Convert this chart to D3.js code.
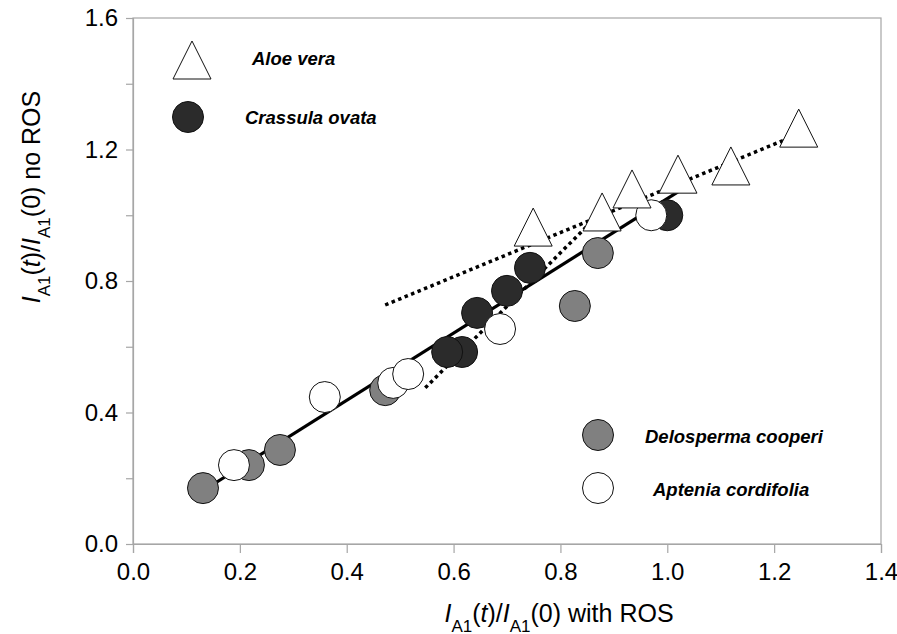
<!DOCTYPE html>
<html>
<head>
<meta charset="utf-8">
<script src="https://cdn.jsdelivr.net/npm/d3@7"></script>
<style>
  body { margin: 0; background: #fff; }
  text { font-family: "Liberation Sans", Arial, sans-serif; }
</style>
</head>
<body>
<script>
// values
var aloeX = [0.749, 0.878, 0.934, 1.020, 1.119, 1.246];
var aloeY = [0.964, 1.010, 1.080, 1.125, 1.150, 1.265];

var crassulaX = [0.616, 0.588, 0.644, 0.700, 0.743, 1.000];
var crassulaY = [0.584, 0.584, 0.703, 0.770, 0.840, 1.000];

var delospermaX = [0.131, 0.217, 0.275, 0.472, 0.827, 0.870];
var delospermaY = [0.170, 0.240, 0.286, 0.468, 0.724, 0.885];

var apteniaX = [0.189, 0.359, 0.487, 0.515, 0.687, 0.970];
var apteniaY = [0.240, 0.447, 0.490, 0.517, 0.654, 1.000];

// fitted lines (end points)
var aloeFitX = [0.472, 1.246];
var aloeFitY = [0.727, 1.247];
var crassulaFitX = [0.547, 0.850];
var crassulaFitY = [0.475, 0.967];
var allFitX = [0.131, 1.020];
var allFitY = [0.162, 1.071];

var xTicks = [0, 0.2, 0.4, 0.6, 0.8, 1.0, 1.2, 1.4];
var yTicks = [0, 0.2, 0.4, 0.6, 0.8, 1.0, 1.2, 1.4, 1.6];
var yTickLabels = ["0.0", "", "0.4", "", "0.8", "", "1.2", "", "1.6"];

var width = 897, height = 634;
var margin = {top: 18, right: 16, bottom: 90, left: 133};
var w = width - margin.left - margin.right;
var h = height - margin.top - margin.bottom;

var svg = d3.select("body").append("svg")
    .attr("width", width)
    .attr("height", height);

var g = svg.append("g")
    .attr("transform", "translate(" + margin.left + "," + margin.top + ")");

var xScale = d3.scaleLinear().domain([0, 1.4]).range([0, w]);
var yScale = d3.scaleLinear().domain([0, 1.6]).range([h, 0]);

var axisColor = "#a6a6a6";

// frame
g.append("rect")
    .attr("x", 0).attr("y", 0)
    .attr("width", w).attr("height", h)
    .attr("fill", "none")
    .attr("stroke", axisColor)
    .attr("stroke-width", 1.2);

var xAxis = g.append("g")
    .attr("transform", "translate(0," + h + ")")
    .call(d3.axisBottom(xScale).tickValues(xTicks).tickSize(9).tickPadding(10)
        .tickFormat(d3.format(".1f")));

var yAxis = g.append("g")
    .call(d3.axisLeft(yScale).tickValues(yTicks).tickSize(7).tickPadding(8)
        .tickFormat(function(d, i) { return yTickLabels[i]; }));

[xAxis, yAxis].forEach(function(a) {
    a.select(".domain").attr("stroke", axisColor).attr("stroke-width", 1.2);
    a.selectAll(".tick line").attr("stroke", axisColor).attr("stroke-width", 1.2);
    a.selectAll(".tick text")
        .attr("fill", "#000")
        .style("font-size", "24px")
        .style("font-family", "'Liberation Sans', Arial, sans-serif");
});

// fit lines
function fitLine(xs, ys) {
    return xs.map(function(x, i) { return [xScale(x), yScale(ys[i])]; });
}
var line = d3.line();

g.append("path")
    .attr("d", line(fitLine(allFitX, allFitY)))
    .attr("stroke", "#000").attr("stroke-width", 3.2).attr("fill", "none");

g.append("path")
    .attr("d", line(fitLine(aloeFitX, aloeFitY)))
    .attr("stroke", "#000").attr("stroke-width", 3.5)
    .attr("stroke-dasharray", "3.5,3.5").attr("fill", "none");

g.append("path")
    .attr("d", line(fitLine(crassulaFitX, crassulaFitY)))
    .attr("stroke", "#000").attr("stroke-width", 3.5)
    .attr("stroke-dasharray", "3.5,3.5").attr("fill", "none");

var r = 15.5;
function circles(xs, ys, fill) {
    g.append("g").selectAll("circle")
        .data(xs.map(function(x, i) { return [x, ys[i]]; }))
        .enter().append("circle")
            .attr("cx", function(d) { return xScale(d[0]); })
            .attr("cy", function(d) { return yScale(d[1]); })
            .attr("r", r)
            .attr("fill", fill)
            .attr("stroke", "#111")
            .attr("stroke-width", 1);
}
circles(delospermaX, delospermaY, "#808080");
circles(crassulaX, crassulaY, "#2b2b2b");
circles(apteniaX, apteniaY, "#ffffff");

var triPath = "M0,-19L19,19L-19,19Z";
g.append("g").selectAll("path")
    .data(aloeX.map(function(x, i) { return [x, aloeY[i]]; }))
    .enter().append("path")
        .attr("d", triPath)
        .attr("transform", function(d) {
            return "translate(" + xScale(d[0]) + "," + yScale(d[1]) + ")";
        })
        .attr("fill", "#fff")
        .attr("stroke", "#111")
        .attr("stroke-width", 1);

// legend
var legend = svg.append("g");
legend.append("path").attr("d", triPath)
    .attr("transform", "translate(192,60)")
    .attr("fill", "#fff").attr("stroke", "#111").attr("stroke-width", 1);
legend.append("circle").attr("cx", 188).attr("cy", 117).attr("r", r)
    .attr("fill", "#2b2b2b").attr("stroke", "#111");
legend.append("circle").attr("cx", 598).attr("cy", 435).attr("r", r)
    .attr("fill", "#808080").attr("stroke", "#111");
legend.append("circle").attr("cx", 598).attr("cy", 488).attr("r", r)
    .attr("fill", "#fff").attr("stroke", "#111");

var legendText = [
    {t: "Aloe vera", x: 252, y: 59},
    {t: "Crassula ovata", x: 245, y: 118},
    {t: "Delosperma cooperi", x: 645, y: 437},
    {t: "Aptenia cordifolia", x: 653, y: 490}
];
legend.selectAll("text.leg")
    .data(legendText)
    .enter().append("text")
        .attr("class", "leg")
        .attr("x", function(d) { return d.x; })
        .attr("y", function(d) { return d.y; })
        .attr("dy", "0.35em")
        .style("font-size", "18.5px")
        .style("font-weight", "bold")
        .style("font-style", "italic")
        .text(function(d) { return d.t; });

// axis titles
function axisTitle(sel, rest) {
    sel.append("tspan").style("font-style", "italic").text("I");
    sel.append("tspan").attr("baseline-shift", "sub").style("font-size", "17px").text("A1");
    sel.append("tspan").text("(");
    sel.append("tspan").style("font-style", "italic").text("t");
    sel.append("tspan").text(")/");
    sel.append("tspan").style("font-style", "italic").text("I");
    sel.append("tspan").attr("baseline-shift", "sub").style("font-size", "17px").text("A1");
    sel.append("tspan").text("(0) " + rest);
}

var xTitle = svg.append("text")
    .attr("x", 559).attr("y", 622)
    .attr("text-anchor", "middle")
    .style("font-size", "25px");
axisTitle(xTitle, "with ROS");

var yTitle = svg.append("text")
    .attr("transform", "translate(40,197) rotate(-90)")
    .attr("text-anchor", "middle")
    .style("font-size", "25px");
axisTitle(yTitle, "no ROS");
</script>
</body>
</html>
